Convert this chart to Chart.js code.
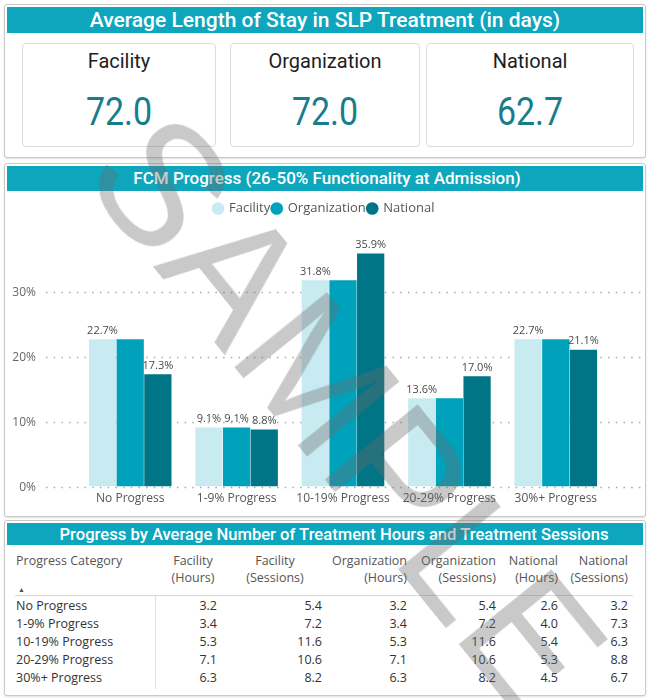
<!DOCTYPE html>
<html>
<head>
<meta charset="utf-8">
<script src="https://cdn.jsdelivr.net/npm/chart.js@4"></script>
<style>
  html, body { margin:0; padding:0; background:#fff; }
  body { width:650px; height:700px; position:relative; overflow:hidden; font-family:"Open Sans", sans-serif; }
  .panel { position:absolute; left:4px; width:640px; border:1px solid #c9c9c9; border-radius:3px; background:#fff; box-shadow:0 1px 2px rgba(0,0,0,0.12); }
  .bar { position:absolute; left:2px; right:2px; top:2px; background:#0ea6bd; color:#fff; text-align:center; font-family:Roboto, sans-serif; font-weight:500; white-space:nowrap; box-sizing:border-box; }
  .card { position:absolute; top:38px; height:102px; border:1px solid #dcdcdc; border-radius:4px; background:#fff; text-align:center; }
  .card .lbl { position:absolute; left:0; right:0; top:5px; font-family:Roboto, sans-serif; font-size:20px; color:#1e1e1e; }
  .card .val { position:absolute; left:0; right:0; top:45px; font-family:Roboto, sans-serif; font-size:39px; color:#187c8c; transform:scaleX(0.87); }
  #tbl { position:absolute; left:0; top:0; width:640px; height:172px; font-family:"Open Sans", sans-serif; font-size:12.5px; }
  .t { position:absolute; white-space:nowrap; line-height:17px; }
  .hd { color:#555; }
  .cell { color:#333; text-align:right; }
  #wm { position:absolute; left:348px; top:412px; transform:translate(-50%,-50%) rotate(51deg); font-family:"Liberation Sans", sans-serif; font-weight:normal; font-size:172px; color:rgba(105,105,105,0.36); pointer-events:none; white-space:nowrap; letter-spacing:1px; }
</style>
</head>
<body>
<div class="panel" style="top:4px;height:152px;">
  <div class="bar" style="height:26px;line-height:26px;font-size:21px;">Average Length of Stay in SLP Treatment (in days)</div>
  <div id="cards"></div>
</div>

<div class="panel" style="top:163px;height:352px;">
  <div class="bar" style="height:25px;line-height:25px;font-size:17px;padding-left:4px;">FCM Progress (26-50% Functionality at Admission)</div>
  <div style="position:absolute;left:0;top:28px;width:640px;height:322px;"><canvas id="c" width="640" height="322"></canvas></div>
</div>

<div class="panel" style="top:520px;height:174px;">
  <div class="bar" style="height:22px;line-height:23px;font-size:16.6px;padding-left:18px;">Progress by Average Number of Treatment Hours and Treatment Sessions</div>
  <div id="tbl"></div>
</div>

<div id="wm">SAMPLE</div>

<script>
// ---- data ----
const losLabels = ['Facility', 'Organization', 'National'];
const losValues = [72.0, 72.0, 62.7];

const categories = ['No Progress', '1-9% Progress', '10-19% Progress', '20-29% Progress', '30%+ Progress'];
const seriesNames = ['Facility', 'Organization', 'National'];
const facilityPct = [22.7, 9.1, 31.8, 13.6, 22.7];
const organizationPct = [22.7, 9.1, 31.8, 13.6, 22.7];
const nationalPct = [17.3, 8.8, 35.9, 17.0, 21.1];
const yTickValues = [0, 10, 20, 30];

const tableColumns = ['Progress Category', 'Facility (Hours)', 'Facility (Sessions)', 'Organization (Hours)', 'Organization (Sessions)', 'National (Hours)', 'National (Sessions)'];
const facilityHours = [3.2, 3.4, 5.3, 7.1, 6.3];
const facilitySessions = [5.4, 7.2, 11.6, 10.6, 8.2];
const organizationHours = [3.2, 3.4, 5.3, 7.1, 6.3];
const organizationSessions = [5.4, 7.2, 11.6, 10.6, 8.2];
const nationalHours = [2.6, 4.0, 5.4, 5.3, 4.5];
const nationalSessions = [3.2, 7.3, 6.3, 8.8, 6.7];

const colors = ['#c8ebf1', '#00a2bb', '#007585'];

// ---- cards ----
const cardBoxes = [[17, 192], [225, 188], [421, 206]];
const cardsEl = document.getElementById('cards');
losLabels.forEach((l, i) => {
  const d = document.createElement('div');
  d.className = 'card';
  d.style.left = cardBoxes[i][0] + 'px';
  d.style.width = cardBoxes[i][1] + 'px';
  d.innerHTML = '<div class="lbl">' + l + '</div><div class="val">' + losValues[i].toFixed(1) + '</div>';
  cardsEl.appendChild(d);
});

// ---- table ----
const tbl = document.getElementById('tbl');
function addText(txt, cls, left, top, right, align) {
  const d = document.createElement('div');
  d.className = 't ' + cls;
  d.textContent = txt;
  d.style.top = top + 'px';
  if (align === 'right') { d.style.right = (640 - right) + 'px'; d.style.textAlign = 'right'; }
  else if (align === 'center') { d.style.left = left + 'px'; d.style.width = (right - left) + 'px'; d.style.textAlign = 'center'; }
  else { d.style.left = left + 'px'; }
  tbl.appendChild(d);
  return d;
}
const hdrTop = 31;
addText(tableColumns[0], 'hd', 11, hdrTop, 0, 'left');
const arrow = addText('▲', 'hd', 13, hdrTop + 29, 0, 'left');
arrow.style.fontSize = '7px';
const hdrPos = [[160, 216, 'center'], [236, 304, 'center'], [0, 402, 'right'], [0, 491, 'right'], [0, 553, 'right'], [0, 623, 'right']];
const valRight = [212, 317, 402, 491, 553, 623];
for (let c = 1; c < tableColumns.length; c++) {
  const parts = tableColumns[c].match(/^(\S+) (\(.+\))$/);
  const p = hdrPos[c - 1];
  addText(parts[1], 'hd', p[0], hdrTop, p[1], p[2]);
  addText(parts[2], 'hd', p[0], hdrTop + 17, p[1], p[2]);
}
const cols = [facilityHours, facilitySessions, organizationHours, organizationSessions, nationalHours, nationalSessions];
categories.forEach((cat, r) => {
  const top = 76 + r * 18;
  addText(cat, 'cell', 11, top, 0, 'left').style.textAlign = 'left';
  cols.forEach((arr, c) => addText(arr[r].toFixed(1), 'cell', 0, top, valRight[c], 'right'));
});
const hl = document.createElement('div');
hl.style.cssText = 'position:absolute;left:10px;width:618px;top:74px;height:1px;background:#d9d9d9;';
tbl.appendChild(hl);
const vl = document.createElement('div');
vl.style.cssText = 'position:absolute;left:150px;width:1px;top:75px;height:93px;background:#e0e0e0;';
tbl.appendChild(vl);

// ---- chart ----
// dotted gridlines and y tick labels, positioned by the chart's own y scale
const gridPlugin = {
  id: 'extGrid',
  beforeDatasetsDraw(chart) {
    const ctx = chart.ctx, y = chart.scales.y;
    ctx.save();
    ctx.strokeStyle = '#a8a8a8';
    ctx.lineWidth = 1.5;
    ctx.setLineDash([1.5, 6.2]);
    ctx.font = '12px "Open Sans", sans-serif';
    ctx.fillStyle = '#666';
    ctx.textAlign = 'right';
    ctx.textBaseline = 'middle';
    y.ticks.forEach(t => {
      const py = Math.round(y.getPixelForValue(t.value)) + 0.5;
      ctx.beginPath();
      ctx.moveTo(41, py);
      ctx.lineTo(636, py);
      ctx.stroke();
      ctx.fillText(t.value + '%', 31, py);
    });
    ctx.restore();
  }
};
const labelPlugin = {
  id: 'valLabels',
  afterDatasetsDraw(chart) {
    const ctx = chart.ctx;
    ctx.save();
    ctx.font = '11px "Open Sans", sans-serif';
    ctx.fillStyle = '#4a4a4a';
    ctx.textAlign = 'center';
    ctx.textBaseline = 'bottom';
    const n = chart.data.labels.length;
    for (let j = 0; j < n; j++) {
      const boxes = [];
      chart.data.datasets.forEach((ds, i) => {
        const el = chart.getDatasetMeta(i).data[j];
        const txt = ds.data[j].toFixed(1) + '%';
        const w = ctx.measureText(txt).width;
        const yb = el.y - 3;
        const b = { l: el.x - w / 2, r: el.x + w / 2, t: yb - 12, btm: yb };
        const hit = boxes.some(o => b.l < o.r && b.r > o.l && b.t < o.btm && b.btm > o.t);
        if (!hit) {
          boxes.push(b);
          ctx.fillText(txt, el.x, yb);
        }
      });
    }
    ctx.restore();
  }
};

new Chart(document.getElementById('c'), {
  type: 'bar',
  data: {
    labels: categories,
    datasets: [
      { label: seriesNames[0], data: facilityPct, backgroundColor: colors[0] },
      { label: seriesNames[1], data: organizationPct, backgroundColor: colors[1] },
      { label: seriesNames[2], data: nationalPct, backgroundColor: colors[2] }
    ]
  },
  options: {
    responsive: false,
    animation: false,
    devicePixelRatio: 1,
    layout: { padding: { left: 34, right: 36, top: 8, bottom: 3 } },
    datasets: { bar: { categoryPercentage: 0.78, barPercentage: 0.985 } },
    plugins: {
      legend: {
        position: 'top',
        labels: {
          usePointStyle: true, pointStyle: 'circle', boxWidth: 9, boxHeight: 9,
          padding: 2, color: '#555', font: { family: '"Open Sans", sans-serif', size: 13 }
        }
      },
      tooltip: { enabled: false }
    },
    scales: {
      x: {
        grid: { display: false, drawTicks: false },
        border: { display: false },
        ticks: { color: '#555', padding: 5, font: { family: '"Open Sans", sans-serif', size: 12 }, maxRotation: 0, autoSkip: false }
      },
      y: {
        min: 0, max: 40.3,
        afterBuildTicks(s) { s.ticks = yTickValues.map(v => ({ value: v })); },
        afterFit(s) { s.width = 38; s.paddingTop = 6; s.paddingBottom = 6; },
        grid: { display: false, drawTicks: false },
        border: { display: false },
        ticks: { display: false }
      }
    }
  },
  plugins: [gridPlugin, labelPlugin]
});
</script>
</body>
</html>
